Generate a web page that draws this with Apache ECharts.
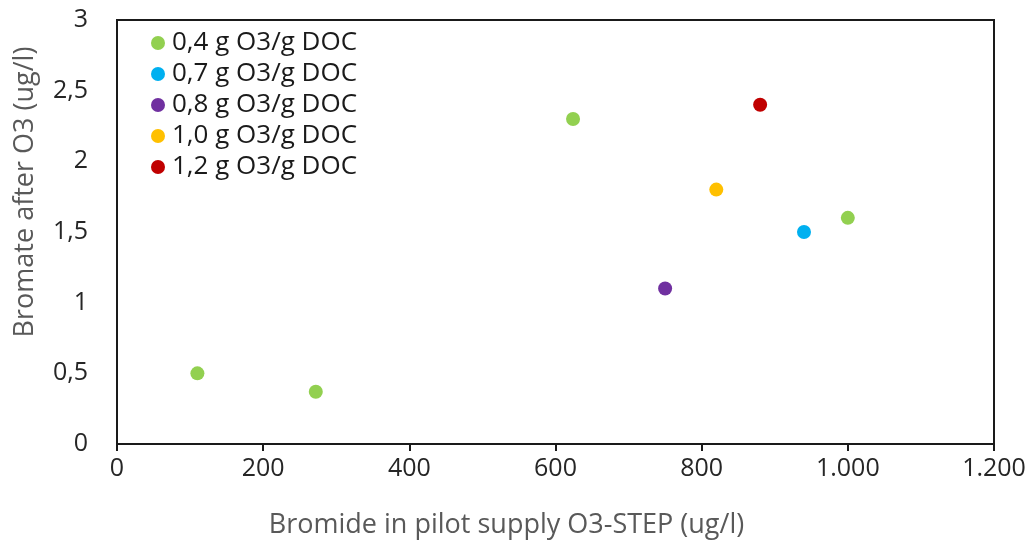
<!DOCTYPE html>
<html>
<head>
<meta charset="utf-8">
<script src="https://cdn.jsdelivr.net/npm/echarts@6/dist/echarts.min.js"></script>
<style>
html,body{margin:0;padding:0;background:#fff;}
#chart{width:1031px;height:544px;}
</style>
</head>
<body>
<div id="chart"></div>
<script>
// Series names (legend)
const seriesNames = ['0,4 g O3/g DOC','0,7 g O3/g DOC','0,8 g O3/g DOC','1,0 g O3/g DOC','1,2 g O3/g DOC'];
const seriesColors = ['#92D050','#00B0F0','#7030A0','#FFC000','#C00000'];
// Data: [bromide in supply (ug/l), bromate after O3 (ug/l)]
const dose04 = [[110, 0.50], [272, 0.37], [624, 2.30], [1000, 1.60]];
const dose07 = [[940, 1.50]];
const dose08 = [[750, 1.10]];
const dose10 = [[820, 1.80]];
const dose12 = [[880, 2.40]];
const allData = [dose04, dose07, dose08, dose10, dose12];

const xTitle = 'Bromide in pilot supply O3-STEP (ug/l)';
const yTitle = 'Bromate after O3 (ug/l)';

const FONT = '"Open Sans", "Noto Sans", sans-serif';
const chart = echarts.init(document.getElementById('chart'));
chart.setOption({
  animation: false,
  backgroundColor: '#fff',
  grid: {
    left: 117, right: 37, top: 20, bottom: 100,
    show: true, borderColor: '#1a1a1a', borderWidth: 2, containLabel: false
  },
  legend: {
    orient: 'vertical', left: 146, top: 25,
    itemWidth: 14, itemHeight: 14, itemGap: 5, icon: 'circle',
    textStyle: { fontFamily: FONT, fontSize: 26, color: '#1a1a1a', padding: [0,0,0,2] },
    data: seriesNames
  },
  xAxis: {
    type: 'value', min: 0, max: 1200, interval: 200,
    name: xTitle, nameLocation: 'middle', nameGap: 68,
    nameTextStyle: { fontFamily: FONT, fontSize: 27, color: '#595959', padding: [0, 98, 0, 0] },
    axisLine: { show: true, lineStyle: { color: '#1a1a1a', width: 2 } },
    axisTick: { show: true, inside: false, length: 7, lineStyle: { color: '#1a1a1a', width: 2 } },
    axisLabel: {
      fontFamily: FONT, fontSize: 25, color: '#262626', margin: 12,
      formatter: v => String(v).replace(/\B(?=(\d{3})+(?!\d))/g, '.')
    },
    splitLine: { show: false }
  },
  yAxis: {
    type: 'value', min: 0, max: 3, interval: 0.5,
    name: yTitle, nameLocation: 'middle', nameGap: 78,
    nameTextStyle: { fontFamily: FONT, fontSize: 27, color: '#595959', padding: [0, 0, 0, 80] },
    axisLine: { show: true, lineStyle: { color: '#1a1a1a', width: 2 } },
    axisTick: { show: false },
    axisLabel: {
      fontFamily: FONT, fontSize: 25, color: '#262626', margin: 29,
      formatter: v => String(v).replace('.', ',')
    },
    splitLine: { show: false }
  },
  series: allData.map((d, i) => ({
    type: 'scatter', name: seriesNames[i], data: d,
    symbol: 'circle', symbolSize: 14,
    itemStyle: { color: seriesColors[i], opacity: 1 }
  }))
});
</script>
</body>
</html>
